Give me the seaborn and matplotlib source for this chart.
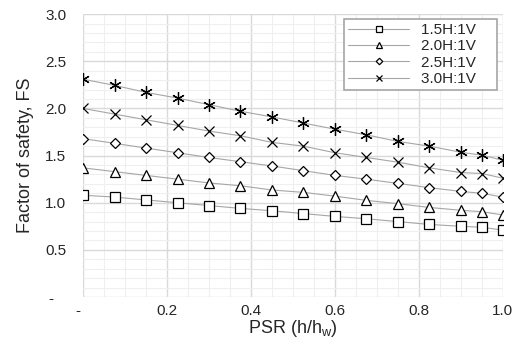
import matplotlib.pyplot as plt
import pandas as pd
import seaborn as sns
from matplotlib.ticker import MultipleLocator

# DONNEES --------------------------------

psr = [0, 0.075, 0.15, 0.225, 0.3, 0.375, 0.45, 0.525, 0.6, 0.675, 0.75, 0.825, 0.9, 0.95, 1.0]

fs_15 = [1.08, 1.06, 1.03, 1.00, 0.97, 0.94, 0.915, 0.885, 0.855, 0.83, 0.80, 0.77, 0.75, 0.74, 0.71]
fs_20 = [1.37, 1.33, 1.29, 1.25, 1.21, 1.18, 1.135, 1.11, 1.07, 1.025, 0.99, 0.95, 0.92, 0.905, 0.87]
fs_25 = [1.68, 1.63, 1.58, 1.53, 1.48, 1.435, 1.39, 1.34, 1.29, 1.25, 1.205, 1.16, 1.12, 1.10, 1.06]
fs_30 = [2.00, 1.94, 1.88, 1.82, 1.76, 1.71, 1.64, 1.60, 1.53, 1.48, 1.43, 1.37, 1.32, 1.31, 1.26]
fs_35 = [2.31, 2.245, 2.17, 2.11, 2.04, 1.97, 1.91, 1.845, 1.78, 1.72, 1.65, 1.60, 1.535, 1.505, 1.45]

series_names = ["1.5H:1V", "2.0H:1V", "2.5H:1V", "3.0H:1V", "3.5H:1V"]
legend_names = series_names[:4]

x_ticks = [0, 0.2, 0.4, 0.6, 0.8, 1.0]
x_ticklabels = ["-  ", "0.2", "0.4", "0.6", "0.8", "1.0"]
y_ticks = [0, 0.5, 1.0, 1.5, 2.0, 2.5, 3.0]
y_ticklabels = ["-   ", "0.5", "1.0", "1.5", "2.0", "2.5", "3.0"]

df = pd.DataFrame(
    {
        "PSR": psr * 5,
        "FS": fs_15 + fs_20 + fs_25 + fs_30 + fs_35,
        "pente": [n for n in series_names for _ in psr],
    }
)

# FIGURE --------------------------------

sns.set_style("white")
plt.rcParams["font.family"] = ["Liberation Sans", "DejaVu Sans"]

fig, ax = plt.subplots(figsize=(5.19, 3.45), dpi=100)
fig.subplots_adjust(left=0.16, right=0.969, top=0.959, bottom=0.139)

markers = ["s", "^", "D", "x", (6, 2, 0)]
sizes = [7.5, 7, 5.5, 7, 9]

for name, m, s in zip(series_names, markers, sizes):
    sns.lineplot(
        data=df[df["pente"] == name], x="PSR", y="FS",
        color="#a6a6a6", linewidth=0.8, marker=m, markersize=s,
        markeredgecolor="black", markerfacecolor="white",
        markeredgewidth=0.9, ax=ax,
    )

lines = ax.get_lines()

ax.set_xlim(0, 1.0)
ax.set_ylim(0, 3.0)
ax.xaxis.set_minor_locator(MultipleLocator(0.05))
ax.yaxis.set_minor_locator(MultipleLocator(0.1))
ax.set_xticks(x_ticks, x_ticklabels)
ax.set_yticks(y_ticks, y_ticklabels)
ax.grid(which="major", color="#d9d9d9", linewidth=1.0)
ax.grid(which="minor", color="#efefef", linewidth=0.8)
ax.set_axisbelow(True)
for sp in ax.spines.values():
    sp.set_visible(False)
ax.tick_params(which="both", length=0, labelsize=11)
ax.tick_params(axis="y", pad=12)
ax.tick_params(axis="x", pad=5)

ax.set_xlabel("PSR (h/h$_\\mathregular{w}$)", fontsize=13, labelpad=0)
ax.set_ylabel("Factor of safety, FS", fontsize=13, labelpad=8)

# espaces en fin de libellé pour la marge droite de la légende
leg = ax.legend(
    handles=lines[:4], labels=[n + "    " for n in legend_names],
    loc="upper right", bbox_to_anchor=(0.986, 0.982), borderaxespad=0,
    fontsize=11, handlelength=4.0, handletextpad=0.8, labelspacing=0.15,
    fancybox=False, framealpha=1, edgecolor="#a6a6a6",
    borderpad=0.25, markerscale=0.6,
)
leg.get_frame().set_linewidth(1.2)

fig.savefig("out.png", dpi=100)
